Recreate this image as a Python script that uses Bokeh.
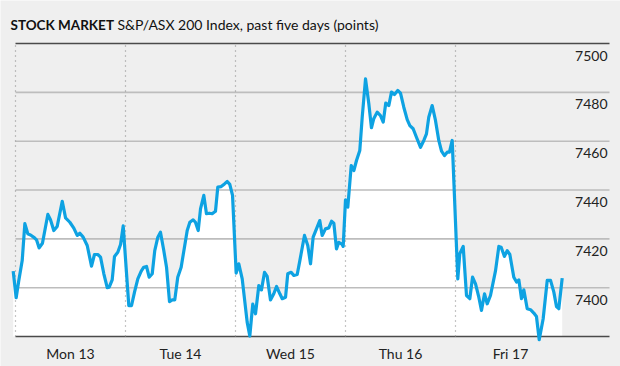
from bokeh.plotting import figure
from bokeh.models import Range1d, ColumnDataSource
from bokeh.core.properties import value
from bokeh.embed import file_html
from bokeh.resources import INLINE

# ---- data ----
days = ["Mon 13", "Tue 14", "Wed 15", "Thu 16", "Fri 17"]

mon_t = [-0.021, 0.006, 0.030, 0.061, 0.085, 0.112, 0.143, 0.173, 0.191, 0.215, 0.245,
         0.294, 0.318, 0.348, 0.379, 0.425, 0.455, 0.494, 0.530, 0.561, 0.585, 0.615,
         0.652, 0.691, 0.718, 0.748, 0.773, 0.803, 0.834, 0.852, 0.879, 0.900, 0.930,
         0.955, 0.979]
mon_v = [7406.8, 7395.9, 7402.9, 7411.1, 7426.2, 7422.1, 7421.4, 7420.4, 7419.6, 7416.3, 7418.2,
         7430.0, 7427.8, 7423.4, 7425.1, 7435.4, 7428.6, 7426.8, 7424.4, 7421.4, 7422.3, 7420.7,
         7417.3, 7408.8, 7413.6, 7413.6, 7412.5, 7405.7, 7400.0, 7400.2, 7403.2, 7412.8, 7414.5,
         7417.7, 7425.3]

tue_t = [0.030, 0.055, 0.082, 0.112, 0.143, 0.166, 0.191, 0.215, 0.243, 0.266, 0.294,
         0.318, 0.348, 0.373, 0.400, 0.425, 0.448, 0.475, 0.506, 0.536, 0.561, 0.585,
         0.615, 0.636, 0.661, 0.682, 0.712, 0.736, 0.761, 0.788, 0.818, 0.839, 0.870,
         0.900, 0.925, 0.948, 0.973]
tue_v = [7392.7, 7392.7, 7398.2, 7403.6, 7406.8, 7408.4, 7408.7, 7404.3, 7405.7, 7415.2, 7420.7,
         7422.7, 7415.2, 7408.4, 7394.3, 7395.0, 7395.0, 7404.3, 7408.4, 7416.6, 7423.4, 7426.8,
         7427.8, 7426.8, 7423.4, 7432.3, 7437.8, 7430.3, 7430.5, 7430.3, 7431.3, 7441.2, 7441.4,
         7442.5, 7443.5, 7442.3, 7437.8]

wed_t = [0.006, 0.030, 0.061, 0.106, 0.130, 0.157, 0.182, 0.212, 0.236, 0.264, 0.288,
         0.318, 0.348, 0.373, 0.403, 0.425, 0.455, 0.475, 0.506, 0.530, 0.561, 0.585,
         0.627, 0.657, 0.682, 0.706, 0.736, 0.766, 0.788, 0.818, 0.848, 0.873, 0.894,
         0.918, 0.939, 0.970, 0.979]
wed_v = [7406.0, 7409.8, 7403.6, 7385.9, 7380.2, 7393.3, 7389.3, 7400.9, 7399.1, 7406.3, 7404.6,
         7395.0, 7397.5, 7400.5, 7397.5, 7395.5, 7396.1, 7405.7, 7406.3, 7405.0, 7405.4, 7411.1,
         7421.4, 7417.3, 7409.8, 7420.7, 7424.1, 7427.5, 7421.4, 7424.1, 7424.5, 7427.2, 7426.4,
         7415.9, 7418.6, 7417.7, 7416.9]

thu_t = [0.000, 0.021, 0.052, 0.076, 0.100, 0.130, 0.152, 0.182, 0.212, 0.236, 0.257,
         0.288, 0.318, 0.343, 0.366, 0.394, 0.418, 0.445, 0.475, 0.500, 0.530, 0.561,
         0.585, 0.615, 0.645, 0.682, 0.712, 0.736, 0.757, 0.788, 0.818, 0.848, 0.873,
         0.900, 0.925, 0.945, 0.970]
thu_v = [7436.0, 7433.0, 7450.0, 7448.0, 7452.1, 7456.2, 7469.8, 7485.5, 7475.3, 7465.5, 7469.2,
         7471.9, 7470.5, 7467.8, 7475.6, 7474.6, 7480.1, 7479.1, 7480.8, 7479.7, 7473.9, 7468.8,
         7466.4, 7465.1, 7461.6, 7457.5, 7460.3, 7463.0, 7469.8, 7474.6, 7468.5, 7460.3, 7455.9,
         7454.1, 7455.5, 7455.5, 7460.3]

fri_t = [0.021, 0.039, 0.070, 0.100, 0.130, 0.155, 0.182, 0.212, 0.236, 0.264, 0.288,
         0.318, 0.364, 0.394, 0.415, 0.445, 0.470, 0.494, 0.530, 0.555, 0.576, 0.600,
         0.621, 0.652, 0.682, 0.712, 0.736, 0.761, 0.797, 0.834, 0.864, 0.894, 0.918,
         0.939, 0.970]
fri_v = [7403.6, 7413.9, 7416.9, 7396.8, 7395.5, 7404.3, 7401.6, 7396.1, 7390.7, 7397.5, 7393.4,
         7396.8, 7407.0, 7416.9, 7416.6, 7412.8, 7415.2, 7413.6, 7404.3, 7402.3, 7403.2, 7395.5,
         7399.1, 7391.4, 7391.0, 7389.6, 7388.2, 7378.7, 7387.3, 7403.0, 7403.0, 7398.2, 7392.3,
         7391.4, 7403.9]

y_ticks = [7400, 7420, 7440, 7460, 7480, 7500]
y_floor = 7380

# ---- assemble a continuous time axis (days) ----
t = []
v = []
for i, (tt, vv) in enumerate([(mon_t, mon_v), (tue_t, tue_v), (wed_t, wed_v),
                               (thu_t, thu_v), (fri_t, fri_v)]):
    t += [i + x for x in tt]
    v += vv
src = ColumnDataSource(dict(t=t, v=v))

BG = "#efefef"
BLUE = "#0ea2e2"
FONT = value("Lato")

# 110 px per day, day 0 starts 15 px from the left; 2.442 px per index point
X0, X1 = -15 / 110, 605 / 110
Y0, Y1 = 7500 - 323 / 2.442, 7500 + 43 / 2.442
GRID_END = 5.4

p = figure(width=620, height=366, x_range=Range1d(X0, X1), y_range=Range1d(Y0, Y1),
           x_axis_type=None, y_axis_type=None, toolbar_location=None,
           output_backend="svg", min_border=0,
           background_fill_color=BG, border_fill_color=BG, outline_line_color=None)

# white area under the index line
p.varea(x="t", y1=y_floor, y2="v", source=src, fill_color="white")

# horizontal grid lines
mid = [y for y in y_ticks if y != 7500]
p.segment(x0=[0] * len(mid), x1=[GRID_END] * len(mid), y0=mid, y1=mid,
          line_color="#bdbdbd", line_width=1.6)
p.segment(x0=[0, 0], x1=[GRID_END, GRID_END], y0=[7500, y_floor], y1=[7500, y_floor],
          line_color="#4a4a4a", line_width=1.6)

# dotted day separators
bounds = list(range(len(days)))
p.segment(x0=bounds, x1=bounds, y0=[y_floor] * len(bounds), y1=[7500] * len(bounds),
          line_color="#8c8c8c", line_width=1.2, line_dash="1 4")

# index line
p.line(x="t", y="v", source=src, line_color=BLUE, line_width=3.2, line_join="round")

# y tick labels (inside, right, under each line)
p.text(x=[(607 - 15) / 110] * len(y_ticks), y=y_ticks, text=[str(y) for y in y_ticks],
       text_align="right", text_baseline="middle", y_offset=12,
       text_font=FONT, text_font_size="14px", text_color="#222222")

# day labels
p.text(x=[i + 0.5 for i in range(len(days))], y=[7500 - 310 / 2.442] * len(days), text=days,
       text_align="center", text_baseline="middle",
       text_font=FONT, text_font_size="14px", text_color="#222222")

# title
p.text(x=[-5 / 110], y=[7500 + 19 / 2.442], text=["STOCK MARKET"], text_align="left",
       text_baseline="alphabetic", text_font=FONT, text_font_style="bold",
       text_font_size="13.5px", text_color="#111111")
p.text(x=[102 / 110], y=[7500 + 19 / 2.442], text=["S&P/ASX 200 Index, past five days (points)"],
       text_align="left", text_baseline="alphabetic", text_font=FONT,
       text_font_size="14px", text_color="#111111")

open("out.html", "w").write(file_html(p, INLINE))
